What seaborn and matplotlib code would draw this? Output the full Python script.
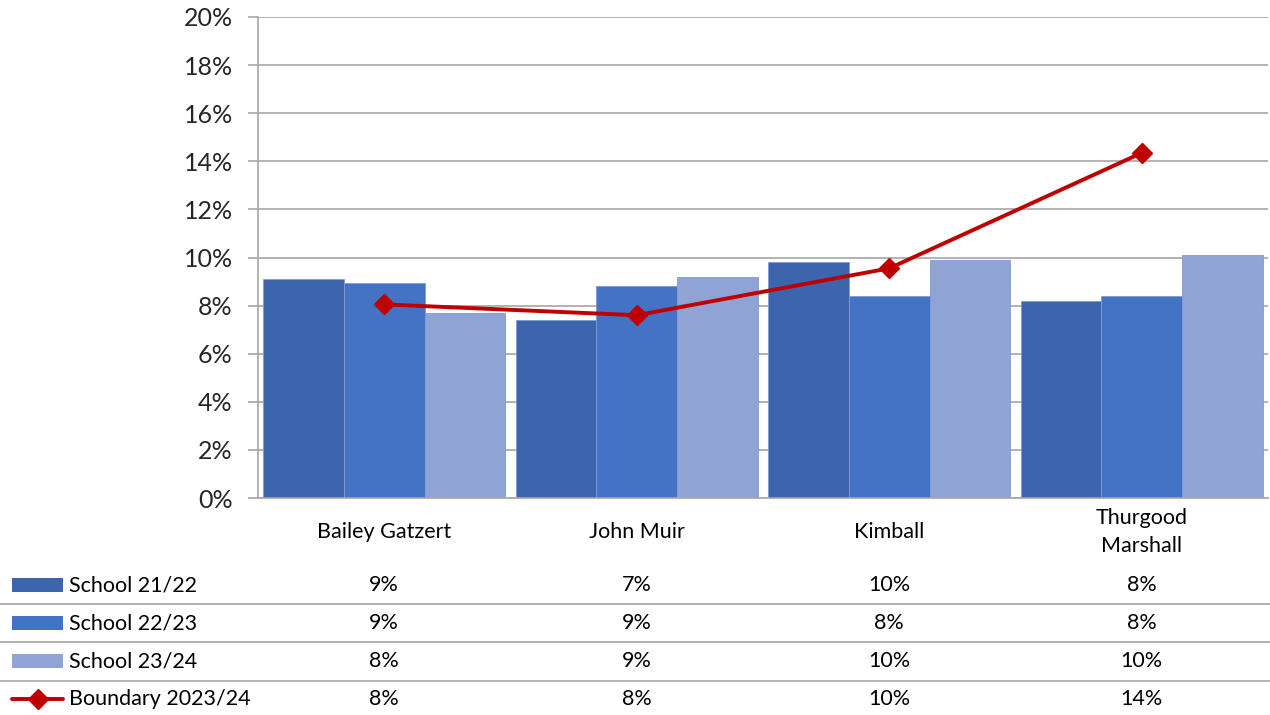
import matplotlib
matplotlib.use('Agg')
import matplotlib.pyplot as plt
import matplotlib.transforms as mtransforms
import numpy as np
import pandas as pd
import seaborn as sns

# Chart data
SCHOOLS = ['Bailey Gatzert', 'John Muir', 'Kimball', 'Thurgood\nMarshall']
SERIES = ['School 21/22', 'School 22/23', 'School 23/24']
SCHOOL_2122 = [9.1, 7.4, 9.8, 8.2]
SCHOOL_2223 = [8.95, 8.8, 8.4, 8.4]
SCHOOL_2324 = [7.7, 9.2, 9.9, 10.1]
BOUNDARY_LABEL = 'Boundary 2023/24'
BOUNDARY = [8.05, 7.6, 9.55, 14.35]
Y_TICKS = [0, 2, 4, 6, 8, 10, 12, 14, 16, 18, 20]

COLORS = ['#3C65AD', '#4472C4', '#8FA3D5']
LINE_COLOR = '#C00000'
GRID_COLOR = '#A6A6A6'
FONT = ['Lato', 'DejaVu Sans']
TXT = 15.5


def main() -> None:
    """Draws the bar/line chart with its data table."""
    sns.set_style('white')
    plt.rcParams['font.family'] = FONT
    plt.rcParams['text.color'] = 'black'

    df = pd.DataFrame({'school': SCHOOLS * 3,
                       'series': np.repeat(SERIES, len(SCHOOLS)),
                       'value': SCHOOL_2122 + SCHOOL_2223 + SCHOOL_2324})

    fig = plt.figure(figsize=(12.7, 7.15), dpi=100)
    ax = fig.add_axes([258 / 1270, 1 - 498 / 715, 1010 / 1270, 481 / 715])
    sns.barplot(data=df, x='school', y='value', hue='series', palette=COLORS, width=0.96,
                gap=0, linewidth=0.6, edgecolor='#7F9BD6', ax=ax, legend=False, saturation=1)
    xs = np.arange(len(SCHOOLS))
    ax.plot(xs, BOUNDARY, color=LINE_COLOR, lw=2.8, marker='D', ms=10.5, zorder=5)

    ax.set_xlim(-0.5, len(SCHOOLS) - 0.5)
    ax.set_ylim(0, 20)
    ax.set_yticks(Y_TICKS)
    ax.set_yticklabels([f'{t}%' for t in Y_TICKS], fontsize=18)
    ax.yaxis.grid(True, color=GRID_COLOR, lw=1.2)
    ax.set_axisbelow(True)
    ax.tick_params(axis='y', length=7.2, width=1.2, color=GRID_COLOR, pad=11, direction='out', left=True)
    ax.tick_params(axis='x', length=0, labelbottom=False)
    ax.set_xlabel('')
    ax.set_ylabel('')
    for side in ['top', 'right']:
        ax.spines[side].set_visible(False)
    for side in ['left', 'bottom']:
        ax.spines[side].set_color(GRID_COLOR)
        ax.spines[side].set_linewidth(1.2)

    # category labels + data table
    trans = mtransforms.blended_transform_factory(ax.transData, fig.transFigure)
    for x, name in zip(xs, SCHOOLS):
        ax.text(x, 1 - 532 / 715, name, transform=trans, ha='center', va='center',
                fontsize=TXT, linespacing=1.45)

    rows = [(SERIES[0], SCHOOL_2122), (SERIES[1], SCHOOL_2223),
            (SERIES[2], SCHOOL_2324), (BOUNDARY_LABEL, BOUNDARY)]
    row_y = [585, 623, 661, 699]
    for i, ((label, vals), y) in enumerate(zip(rows, row_y)):
        yf = 1 - y / 715
        for x, v in zip(xs, vals):
            ax.text(x, yf, f'{v:.0f}%', transform=trans, ha='center', va='center', fontsize=TXT)
        fig.text(69 / 1270, yf, label, ha='left', va='center', fontsize=TXT)
        if i < 3:
            fig.patches.append(plt.Rectangle((12 / 1270, yf - 7 / 715), 51 / 1270, 14 / 715,
                                             transform=fig.transFigure, color=COLORS[i], lw=0))
        else:
            fig.lines.append(plt.Line2D([12 / 1270, 63 / 1270], [yf, yf], transform=fig.transFigure,
                                        color=LINE_COLOR, lw=2.8, marker=None))
            fig.lines.append(plt.Line2D([37.5 / 1270], [yf], transform=fig.transFigure,
                                        color=LINE_COLOR, marker='D', ms=10, lw=0))
    for y in [604, 642, 681]:
        fig.lines.append(plt.Line2D([0, 1], [1 - y / 715] * 2, transform=fig.transFigure,
                                    color=GRID_COLOR, lw=1.2))

    fig.savefig('out.png', dpi=100)


if __name__ == '__main__':
    main()
